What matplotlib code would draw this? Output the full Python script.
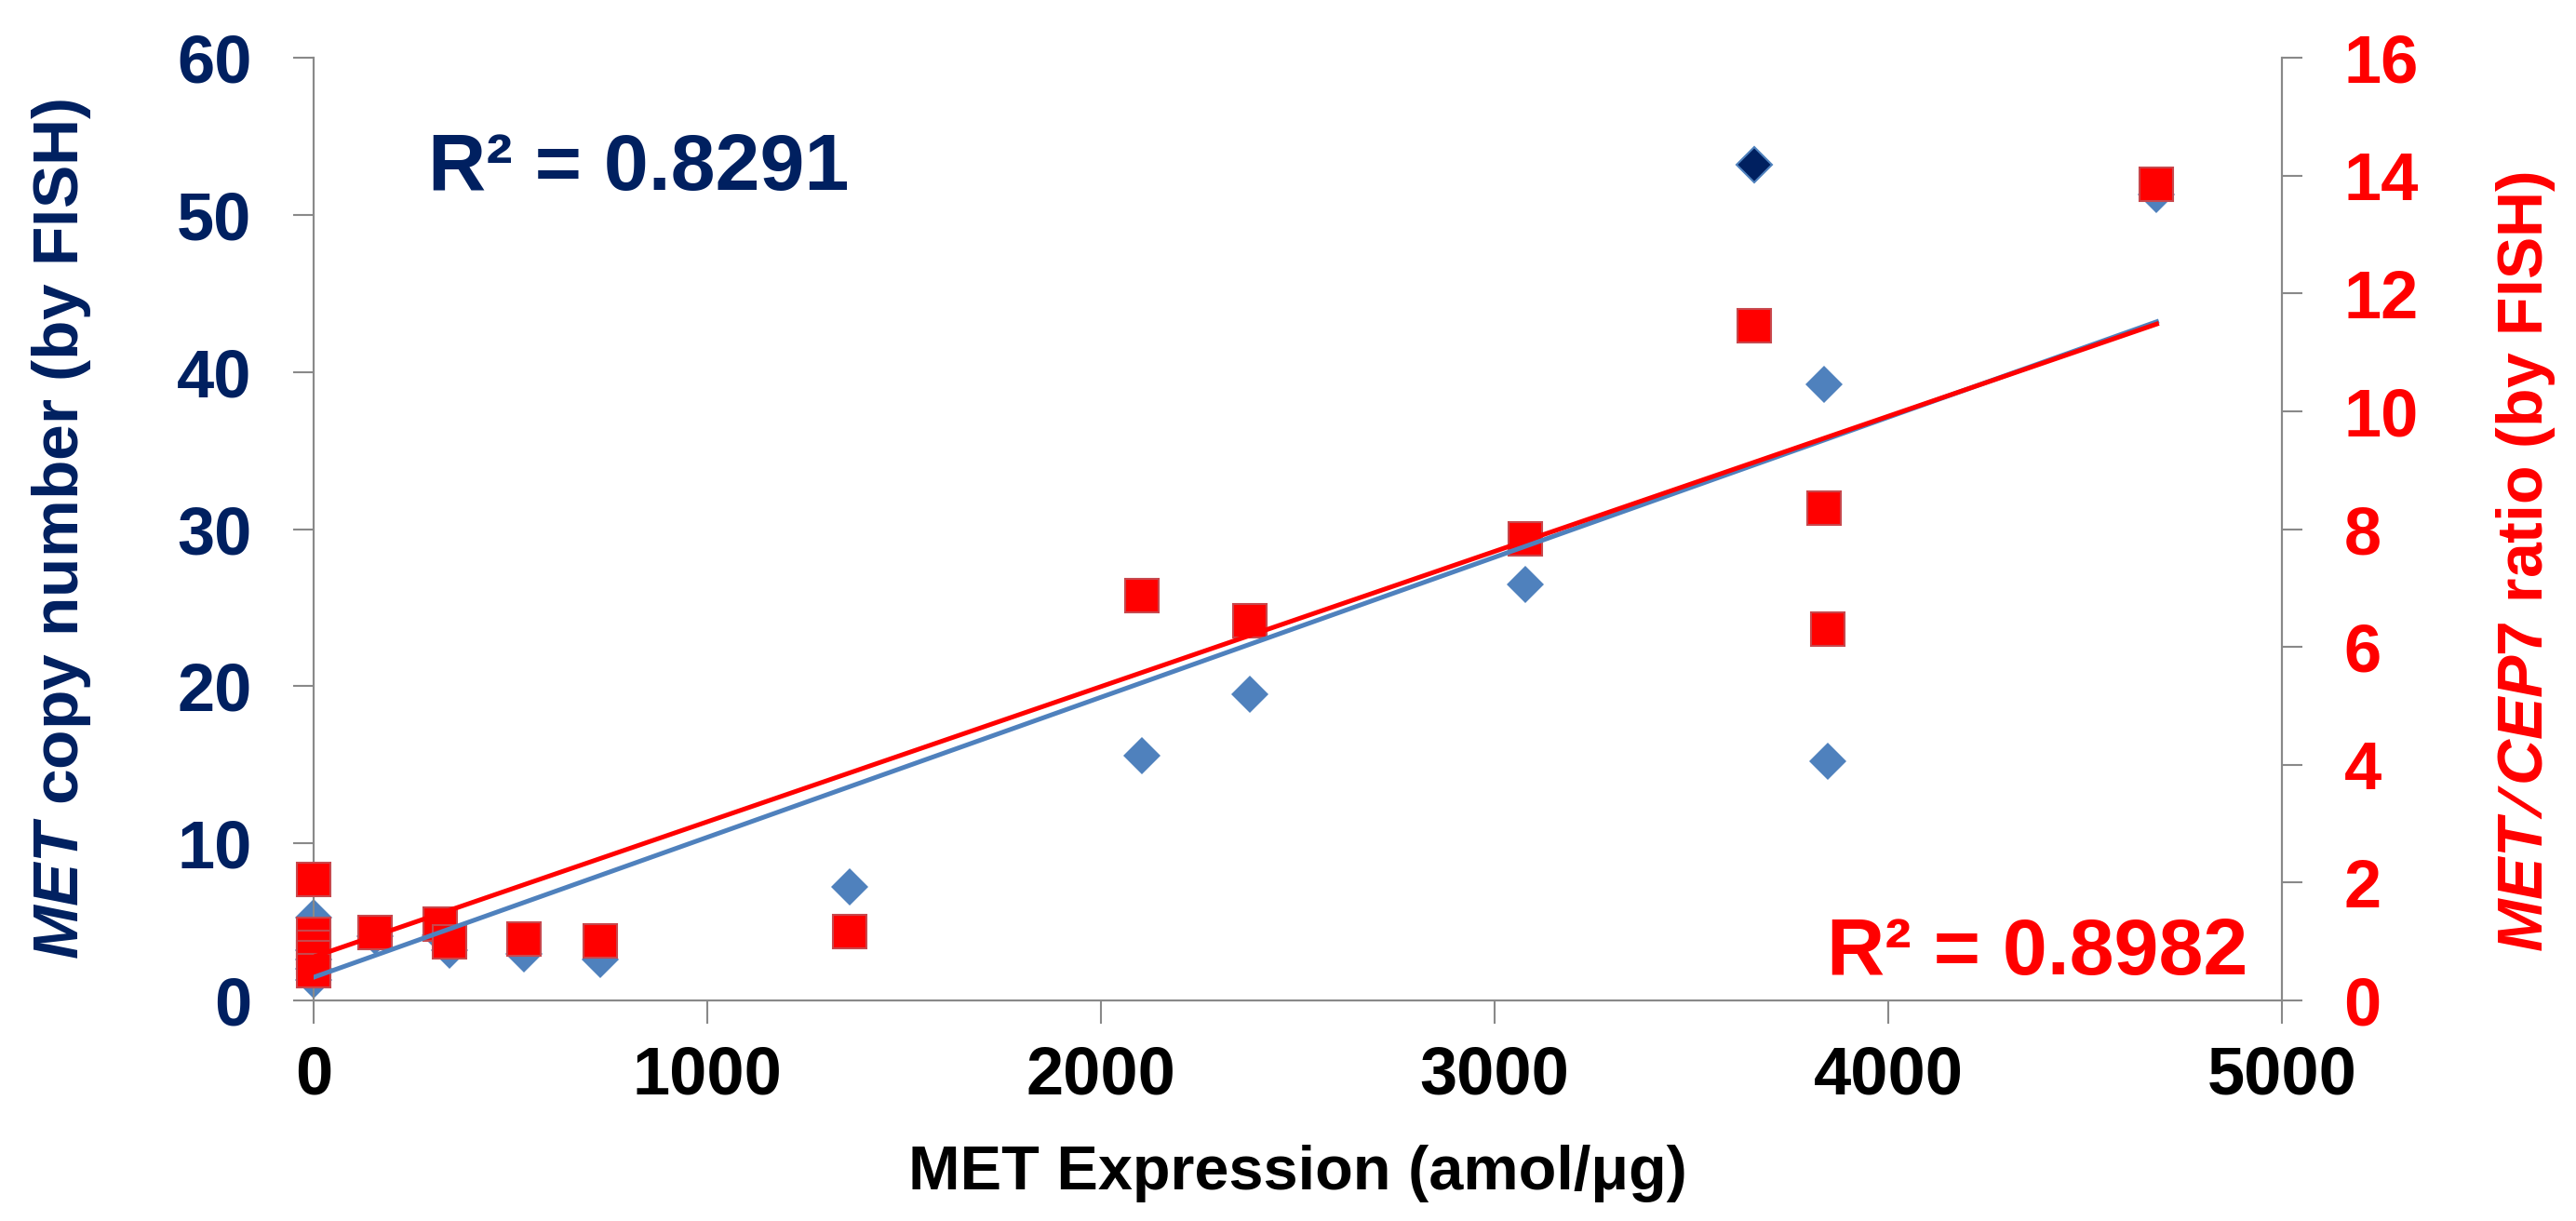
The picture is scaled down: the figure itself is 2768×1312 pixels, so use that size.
import matplotlib
matplotlib.use("Agg")
import matplotlib.pyplot as plt

# MET expression (amol/ug) per sample
expr = [0, 0, 0, 0, 0, 156, 322, 346, 533, 728, 1361, 2105, 2378, 3077, 3660, 3838, 3846, 4682]
# MET copy number by FISH (left axis)
copy_num = [5.3, 3.2, 2.6, 2.0, 1.3, 4.1, 4.15, 3.2, 2.97, 2.6, 7.2, 15.6, 19.5, 26.5, 53.2, 39.2, 15.2, 51.3]
# MET/CEP7 ratio by FISH (right axis)
ratio = [2.05, 1.12, 0.9, 0.72, 0.5, 1.15, 1.29, 0.99, 1.05, 1.01, 1.17, 6.87, 6.44, 7.84, 11.45, 8.35, 6.30, 13.86]
highlight = 14  # sample drawn as a dark diamond

# linear trend lines (intercept, slope)
fit_copy = (1.48, 0.00891)
fit_ratio = (0.74, 0.002294)
r2_copy = "R² = 0.8291"
r2_ratio = "R² = 0.8982"

xticks = [0, 1000, 2000, 3000, 4000, 5000]
yticks_left = [0, 10, 20, 30, 40, 50, 60]
yticks_right = [0, 2, 4, 6, 8, 10, 12, 14, 16]

navy = "#002060"
blue = "#4F81BD"
red = "#FF0000"
grey = "#898989"

plt.rcParams["font.family"] = ["Liberation Sans", "DejaVu Sans"]
plt.rcParams["font.weight"] = "bold"
plt.rcParams["axes.labelweight"] = "bold"
plt.rcParams["mathtext.fontset"] = "custom"
plt.rcParams["mathtext.it"] = "Liberation Sans:italic:bold"
plt.rcParams["mathtext.rm"] = "Liberation Sans:bold"
plt.rcParams["mathtext.bf"] = "Liberation Sans:bold"

fig = plt.figure(figsize=(27.68, 13.12), dpi=100)
ax = fig.add_axes([0.1218, 0.1806, 0.7640, 0.7721])
ax2 = ax.twinx()

# diamonds on the left axis
xs = [x for i, x in enumerate(expr) if i != highlight]
ys = [y for i, y in enumerate(copy_num) if i != highlight]
ax.plot(xs, ys, "D", color=blue, markersize=20, markeredgewidth=0, clip_on=False, zorder=3)
ax.plot([expr[highlight]], [copy_num[highlight]], "D", color=navy, markersize=19,
        markeredgecolor=blue, markeredgewidth=1.5, clip_on=False, zorder=3)

# squares on the right axis
ax2.plot(expr, ratio, "s", color=red, markersize=26, markeredgecolor="#C8474C",
         markeredgewidth=1.5, clip_on=False, zorder=3)

# trend lines on top of the markers
x0, x1 = min(expr), max(expr)
ax2.plot([x0, x1], [fit_copy[0] + fit_copy[1] * x0, fit_copy[0] + fit_copy[1] * x1],
         color=blue, lw=3.6, transform=ax.transData, zorder=4)
ax2.plot([x0, x1], [fit_ratio[0] + fit_ratio[1] * x0, fit_ratio[0] + fit_ratio[1] * x1],
         color=red, lw=3.6, zorder=5)

ax.set_xlim(0, 5000)
ax.set_ylim(0, 60)
ax2.set_ylim(0, 16)
ax.set_xticks(xticks)
ax.set_yticks(yticks_left)
ax2.set_yticks(yticks_right)

for a in (ax, ax2):
    for s in a.spines.values():
        s.set_color(grey)
        s.set_linewidth(1.5)
    a.spines["top"].set_visible(False)

ax.tick_params(axis="x", length=18, width=1.5, color=grey, labelsize=52, pad=16, labelcolor="black")
ax.tick_params(axis="y", length=16, width=1.5, color=grey, labelsize=52, pad=32, labelcolor=navy)
ax2.tick_params(axis="y", length=16, width=1.5, color=grey, labelsize=52, pad=32, labelcolor=red)

ax.set_xlabel("MET Expression (amol/μg)", fontsize=48, color="black", fontweight="bold")
ax.xaxis.set_label_coords(0.5, -0.153)
ax.set_ylabel(r"$\mathit{MET}$ copy number (by FISH)", fontsize=50, color=navy, fontweight="bold")
ax.yaxis.set_label_coords(-0.112, 0.5)
ax2.set_ylabel(r"$\mathit{MET}\slash\mathit{CEP7}$ ratio (by FISH)", fontsize=49, color=red,
               fontweight="bold")
ax2.yaxis.set_label_coords(1.108, 0.465)

fig.text(0.1662, 0.8445, r2_copy, fontsize=62, color=navy, va="baseline", ha="left")
fig.text(0.7092, 0.2020, r2_ratio, fontsize=62, color=red, va="baseline", ha="left")

fig.savefig("out.png", dpi=100)
